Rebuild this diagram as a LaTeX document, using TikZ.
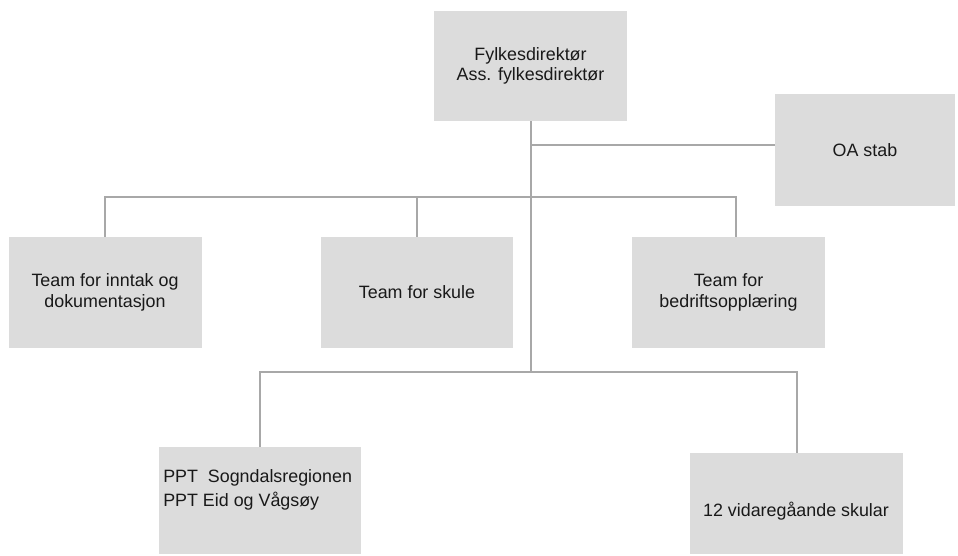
\documentclass[tikz,border=0pt]{standalone}
\usepackage{fontspec}
\setmainfont{Liberation Sans}
\definecolor{boxgray}{HTML}{DCDCDC}
\definecolor{linegray}{HTML}{A8A8A8}
\begin{document}
\begin{tikzpicture}[x=0.75pt,y=-0.75pt,
  box/.style={fill=boxgray, inner sep=0pt, align=center, text=black!90,
    font=\fontsize{13.4}{15.5}\selectfont},
  lbl/.style={inner sep=0pt, align=left, text=black!90,
    font=\fontsize{13.4}{18}\selectfont},
  conn/.style={draw=linegray, line width=1.5pt}]
\useasboundingbox (0,0) rectangle (958,556);
% boxes
\node[box, minimum width=144.75pt, minimum height=82.5pt] (top) at (530.5,66) {Fylkesdirektør\\Ass. fylkesdirektør};
\node[box, minimum width=135pt, minimum height=84pt] (oa) at (865,150) {OA stab};
\node[box, minimum width=144.75pt, minimum height=83.25pt] (inntak) at (105,292.5) {Team for inntak og\\dokumentasjon};
\node[box, minimum width=144pt, minimum height=83.25pt] (skule) at (417,292.5) {Team for skule};
\node[box, minimum width=144.75pt, minimum height=83.25pt] (bedrift) at (728.5,292.5) {Team for\\bedriftsopplæring};
\node[box, minimum width=151.5pt, minimum height=80.25pt] (ppt) at (260,500.5) {};
\node[lbl, anchor=west] (ppttext) at (163,490) {PPT\ \ Sogndalsregionen\\PPT Eid og Vågsøy};
\node[box, minimum width=159.75pt, minimum height=75.75pt] (vid) at (796.5,503.5) {};
\node[box, fill=none] (vidtext) at (796,511) {12 vidaregåande skular};
% junction coordinates
\coordinate (j1) at (530.5,145);
\coordinate (j2) at (530.5,197);
\coordinate (j3) at (530.5,372);
% connectors
\draw[conn] (top.south) -- (j3);
\draw[conn] (j1) -- (j1 -| oa.west);
\draw[conn] (inntak.north) |- ([xshift=5.6pt]bedrift.north |- j2) -- ([xshift=5.6pt]bedrift.north);
\draw[conn] (skule.north) -- (skule.north |- j2);
\draw[conn] (ppt.north) |- (vid.north |- j3) -- (vid.north);
\end{tikzpicture}
\end{document}
